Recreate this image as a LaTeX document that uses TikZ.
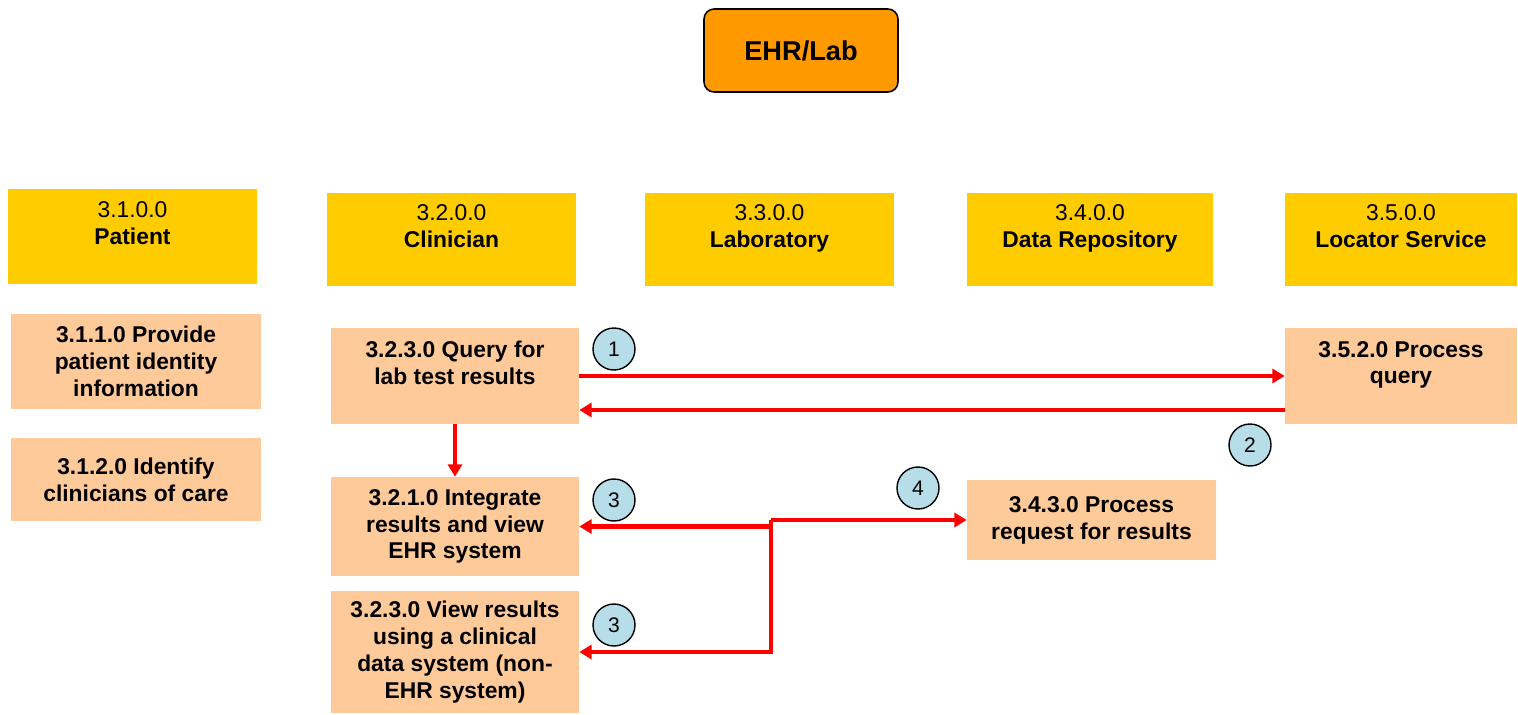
\documentclass[tikz,border=0pt]{standalone}
\usepackage{fontspec}
\setmainfont{Liberation Sans}
\usetikzlibrary{positioning, arrows.meta}

\definecolor{actorgold}{HTML}{FFCC00}
\definecolor{taskpeach}{HTML}{FFCA99}
\definecolor{titleorange}{HTML}{FF9900}
\definecolor{stepblue}{HTML}{B7DEE8}

\begin{document}
\begin{tikzpicture}[x=0.02cm, y=-0.02cm,
    actor/.style={fill=actorgold, align=center, inner sep=0pt, minimum width=4.98cm, minimum height=1.86cm, font=\fontsize{13}{15.3}\selectfont},
    task/.style={fill=taskpeach, align=center, inner sep=0pt, minimum width=4.96cm, font=\fontsize{13}{15.3}\selectfont\bfseries},
    stepnum/.style={draw, circle, fill=stepblue, line width=0.8pt, minimum size=0.84cm, inner sep=0pt, font=\fontsize{12}{14}\selectfont},
    flow/.style={draw=red, line width=2.3pt, -{Triangle[length=7pt, width=8pt]}}]
    \useasboundingbox (0,0) rectangle (1518,714);

    \node[draw, fill=titleorange, rounded corners=0.2cm, line width=0.9pt, minimum width=3.88cm, minimum height=1.66cm, font=\fontsize{15.5}{18}\selectfont\bfseries] (ehr) at (801,50.5) {EHR/Lab};

    % Actors
    \node[actor, minimum height=1.9cm] (patient) at (132.5,236.5) {3.1.0.0\\\textbf{Patient}\\\mbox{}};
    \node[actor] (clinician) at (451.5,239.5) {3.2.0.0\\\textbf{Clinician}\\\mbox{}};
    \node[actor] (lab) at (769.5,239.5) {3.3.0.0\\\textbf{Laboratory}\\\mbox{}};
    \node[actor, minimum width=4.92cm] (repo) at (1090,239.5) {3.4.0.0\\\textbf{Data Repository}\\\mbox{}};
    \node[actor, minimum width=4.64cm] (locator) at (1401,239.5) {3.5.0.0\\\textbf{Locator Service}\\\mbox{}};

    % Tasks
    \node[task, minimum width=5cm, minimum height=1.9cm] (provide) at (136,361.5) {3.1.1.0 Provide\\patient identity\\information};
    \node[task, minimum width=5cm, minimum height=1.66cm] (identify) at (136,479.5) {3.1.2.0 Identify\\clinicians of care};
    \node[task, minimum height=1.92cm] (query) at (455,376) {3.2.3.0 Query for\\lab test results\\\mbox{}};
    \node[task, minimum height=1.98cm] (integ) at (455,526.5) {3.2.1.0 Integrate\\results and view\\EHR system};
    \node[task, minimum height=2.44cm] (view) at (455,652) {3.2.3.0 View results\\using a clinical\\data system (non-\\EHR system)};
    \node[task, minimum width=4.64cm, minimum height=1.92cm] (process) at (1401,376) {3.5.2.0 Process\\query\\\mbox{}};
    \node[task, minimum width=4.98cm, minimum height=1.6cm] (request) at (1091.5,520) {3.4.3.0 Process\\request for results};

    % Step numbers
    \node[stepnum] (s1) at (614,349) {1};
    \node[stepnum] (s2) at (1250,445) {2};
    \node[stepnum] (s3a) at (614,500) {3};
    \node[stepnum] (s3b) at (614,625) {3};
    \node[stepnum] (s4) at (918,488) {4};

    % Draw flows
    \coordinate (split) at (771,520);
    \draw[flow] (query.east) -- (process.west);
    \draw[flow] ([yshift=-0.68cm]process.west) -- ([yshift=-0.68cm]query.east);
    \draw[flow] (query.south) -- (integ.north);
    \draw[flow] (split) -- (request.west);
    \draw[flow] (split |- integ.east) -- (integ.east);
    \draw[flow] (split) |- (view.east);

\end{tikzpicture}
\end{document}
